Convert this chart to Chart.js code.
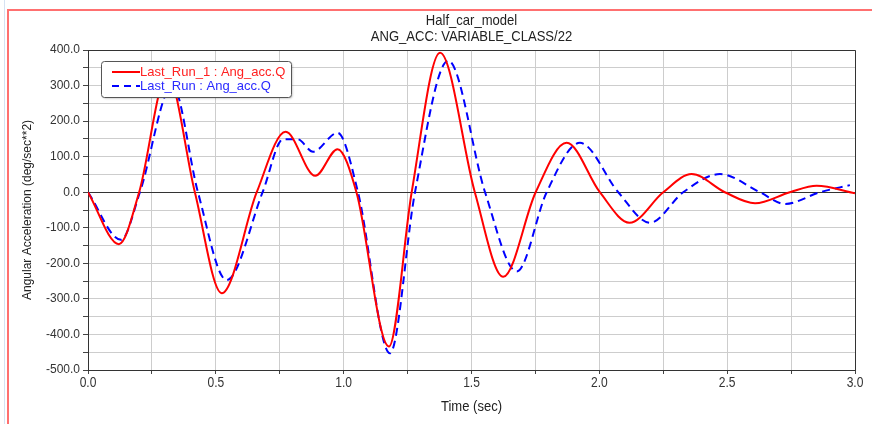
<!DOCTYPE html>
<html>
<head>
<meta charset="utf-8">
<script src="https://cdn.jsdelivr.net/npm/chart.js@4.4.1/dist/chart.umd.min.js"></script>
<style>
html,body{margin:0;padding:0;background:#fff;}
#wrap{width:872px;height:424px;position:relative;}
</style>
</head>
<body>
<div id="wrap"><canvas id="c" width="872" height="424"></canvas></div>
<script>
// ---- data ----
const titleLines = ["Half_car_model", "ANG_ACC: VARIABLE_CLASS/22"];
const xTitle = "Time (sec)";
const yTitle = "Angular Acceleration (deg/sec**2)";
const seriesNames = ["Last_Run_1 : Ang_acc.Q", "Last_Run : Ang_acc.Q"];

const redTime  = [0, 0.121, 0.2, 0.31, 0.418, 0.523, 0.66, 0.773, 0.889, 0.976, 1.05, 1.177, 1.266, 1.377, 1.513, 1.624, 1.751, 1.872, 2.002, 2.118, 2.25, 2.361, 2.491, 2.609, 2.745, 2.85, 3.0];
const redValue = [0, -146, 0, 330, 0, -284, 0, 170, 46, 121, 0, -434, 0, 392, 0, -238, 0, 139, 0, -86, 0, 51, 0, -31, 0, 18, -3];

const blueTime  = [0, 0.129, 0.203, 0.33, 0.43, 0.542, 0.683, 0.763, 0.82, 0.88, 0.976, 1.056, 1.181, 1.279, 1.409, 1.553, 1.677, 1.794, 1.924, 2.074, 2.198, 2.328, 2.472, 2.628, 2.726, 2.863, 2.98];
const blueValue = [0, -134, 0, 300, 0, -247, 0, 149, 149, 114, 167, 0, -453, 0, 370, 0, -223, 0, 139, 0, -86, 0, 51, 0, -33, 0, 20];

const xMin = 0, xMax = 3.0, xGridStep = 0.25, xLabelStep = 0.5;
const yMin = -500, yMax = 400, yGridStep = 50, yLabelStep = 100;

const REG = '"Liberation Sans", Arial, sans-serif';

const toPts = (xs, ys) => xs.map((x, i) => ({x: x, y: ys[i]}));

// condensed text (narrow face look) by horizontal scaling
function narrowText(ctx, text, x, y, size, sx, align) {
  ctx.save();
  ctx.font = size + 'px ' + REG;
  ctx.textAlign = align || 'center';
  ctx.textBaseline = 'middle';
  ctx.translate(x, y);
  ctx.scale(sx, 1);
  ctx.fillText(text, 0, 0);
  ctx.restore();
}

const decor = {
  id: 'decor',
  afterDatasetsDraw(chart) {
    const ctx = chart.ctx, a = chart.chartArea;
    ctx.save();
    // plot frame top/right
    ctx.strokeStyle = '#333';
    ctx.lineWidth = 1;
    ctx.beginPath();
    ctx.moveTo(a.left, a.top + 0.5); ctx.lineTo(a.right + 0.5, a.top + 0.5);
    ctx.lineTo(a.right + 0.5, a.bottom);
    ctx.stroke();

    // legend box
    const lx = 101, ly = 61, lw = 190, lh = 36;
    ctx.shadowColor = 'rgba(0,0,0,0.25)';
    ctx.shadowOffsetX = 1; ctx.shadowOffsetY = 1; ctx.shadowBlur = 2;
    ctx.fillStyle = '#fff';
    ctx.beginPath();
    ctx.roundRect(lx + 0.5, ly + 0.5, lw, lh, 3);
    ctx.fill();
    ctx.shadowColor = 'transparent';
    ctx.strokeStyle = '#555';
    ctx.lineWidth = 1;
    ctx.stroke();

    ctx.font = '13px ' + REG;
    ctx.textBaseline = 'middle';
    ctx.textAlign = 'left';
    // red item
    ctx.strokeStyle = '#ff0000'; ctx.lineWidth = 2;
    ctx.beginPath(); ctx.moveTo(112, 72); ctx.lineTo(140, 72); ctx.stroke();
    ctx.fillStyle = '#ff2020';
    ctx.fillText(seriesNames[0], 140, 72.5);
    // blue item
    ctx.strokeStyle = '#0000ff';
    ctx.setLineDash([7, 5]);
    ctx.beginPath(); ctx.moveTo(112, 86); ctx.lineTo(140, 86); ctx.stroke();
    ctx.setLineDash([]);
    ctx.fillStyle = '#2a2aff';
    ctx.fillText(seriesNames[1], 140, 86.5);

    // titles
    ctx.fillStyle = '#222';
    const cx = (a.left + a.right) / 2;
    narrowText(ctx, titleLines[0], cx, 21, 15, 0.87);
    narrowText(ctx, titleLines[1], cx, 37, 15, 0.87);

    // x tick labels (every 0.5) and x title
    const xs = chart.scales.x;
    ctx.fillStyle = '#333';
    for (let v = xMin; v <= xMax + 1e-9; v += xLabelStep) {
      narrowText(ctx, v.toFixed(1), xs.getPixelForValue(v), a.bottom + 13, 14, 0.86);
    }
    ctx.fillStyle = '#222';
    narrowText(ctx, xTitle, cx, 407, 15, 0.87);

    // outer window frame
    ctx.strokeStyle = '#ff7070'; ctx.lineWidth = 2;
    ctx.beginPath(); ctx.moveTo(8, 424); ctx.lineTo(8, 10); ctx.lineTo(872, 10); ctx.stroke();
    ctx.strokeStyle = '#d6e2f2'; ctx.lineWidth = 1;
    ctx.beginPath(); ctx.moveTo(4.5, 0); ctx.lineTo(4.5, 424); ctx.stroke();
    ctx.restore();
  }
};

new Chart(document.getElementById('c'), {
  type: 'line',
  data: {
    datasets: [
      {
        label: seriesNames[0],
        data: toPts(redTime, redValue),
        borderColor: '#ff0000',
        borderWidth: 2,
        pointRadius: 0,
        cubicInterpolationMode: 'monotone',
        fill: false
      },
      {
        label: seriesNames[1],
        data: toPts(blueTime, blueValue),
        borderColor: '#0000ff',
        borderWidth: 2,
        borderDash: [8, 5],
        pointRadius: 0,
        cubicInterpolationMode: 'monotone',
        fill: false
      }
    ]
  },
  options: {
    responsive: false,
    animation: false,
    devicePixelRatio: 1,
    layout: { padding: { left: 0, right: 17, top: 50, bottom: 0 } },
    plugins: {
      legend: { display: false },
      title: { display: false },
      tooltip: { enabled: false }
    },
    scales: {
      x: {
        type: 'linear',
        min: xMin, max: xMax,
        afterFit(s) { s.height = 54; },
        afterBuildTicks(s) {
          const t = [];
          for (let v = xMin; v <= xMax + 1e-9; v += xGridStep) t.push({value: +v.toFixed(2)});
          s.ticks = t;
        },
        ticks: { display: false, autoSkip: false, maxRotation: 0 },
        grid: { color: '#cdcdcd', lineWidth: 1, tickLength: 4, tickColor: '#444' },
        border: { color: '#333', width: 1 },
        title: { display: false }
      },
      y: {
        type: 'linear',
        min: yMin, max: yMax,
        afterFit(s) { s.width = 88; },
        afterBuildTicks(s) {
          const t = [];
          for (let v = yMin; v <= yMax; v += yGridStep) t.push({value: v});
          s.ticks = t;
        },
        ticks: {
          autoSkip: false,
          padding: 3,
          color: '#333',
          font: { family: REG, size: 12 },
          callback(v) { return (v % yLabelStep === 0) ? v.toFixed(1) : ''; }
        },
        grid: {
          color(c) { return c.tick && c.tick.value === 0 ? '#333' : '#cdcdcd'; },
          lineWidth: 1, tickLength: 5, tickColor: '#444'
        },
        border: { color: '#333', width: 1 },
        title: {
          display: true, text: yTitle, color: '#222',
          font: { family: REG, size: 12 },
          padding: { top: 20, bottom: 0 }
        }
      }
    }
  },
  plugins: [decor]
});
</script>
</body>
</html>
